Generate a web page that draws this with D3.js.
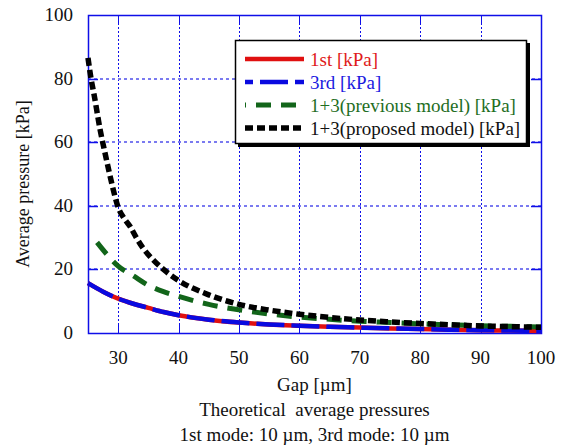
<!DOCTYPE html>
<html>
<head>
<meta charset="utf-8">
<script src="https://cdn.jsdelivr.net/npm/d3@7"></script>
<style>
	body { margin: 0; background: #fff; }
	svg { display: block; font-family: "Liberation Serif", "Times New Roman", "DejaVu Serif", serif; }
</style>
</head>
<body>
<svg id="chart" width="561" height="445"></svg>
<script>
// Values
var gapFirst = [25, 27.5, 30, 32.5, 35, 37.5, 40, 45, 50, 55, 60, 65, 70, 75, 80, 85, 90, 95, 100];
var pressFirst = [15.7, 13.0, 10.8, 9.2, 7.9, 6.6, 5.6, 4.2, 3.3, 2.7, 2.3, 1.95, 1.7, 1.45, 1.25, 1.05, 0.9, 0.75, 0.6];
var gapThird = [25, 27.5, 30, 32.5, 35, 37.5, 40, 45, 50, 55, 60, 65, 70, 75, 80, 85, 90, 95, 100];
var pressThird = [15.7, 13.0, 10.8, 9.2, 7.9, 6.6, 5.6, 4.2, 3.3, 2.7, 2.3, 1.95, 1.7, 1.45, 1.25, 1.05, 0.9, 0.75, 0.6];
var gapPrev = [26.5, 28, 30, 32.5, 35, 37.5, 40, 45, 50, 55, 60, 65, 70, 75, 80, 85, 90, 95, 100];
var pressPrev = [28.5, 25.0, 21.0, 18.0, 15.0, 13.0, 11.5, 9.0, 7.3, 6.0, 5.0, 4.3, 3.7, 3.3, 2.9, 2.6, 2.3, 2.1, 1.9];
var gapProp = [25, 25.5, 26, 27, 28, 29, 30, 31, 32, 33, 34, 36, 38, 40, 45, 50, 55, 60, 65, 70, 75, 80, 85, 90, 95, 100];
var pressProp = [86.5, 80, 75, 64, 55, 46.5, 39.5, 36, 33.4, 30, 27, 22.6, 19.2, 16.5, 12, 9.0, 7.2, 5.9, 4.9, 4.1, 3.5, 3.0, 2.6, 2.2, 2.0, 1.8];

var xTicks = [30, 40, 50, 60, 70, 80, 90, 100];
var yTicks = [0, 20, 40, 60, 80, 100];
var seriesNames = ["1st [kPa]", "3rd [kPa]", "1+3(previous model) [kPa]", "1+3(proposed model) [kPa]"];

var chart = [];
chart.left = 88;
chart.right = 541;
chart.top = 15;
chart.bottom = 333;

chart.draw = () => {
	let svg = d3.select("#chart");
	let frameColor = "#0f0fe8";

	let x = d3.scaleLinear().domain([25, 100]).range([chart.left, chart.right]),
		y = d3.scaleLinear().domain([0, 100]).range([chart.bottom, chart.top]);

	// Grid lines
	svg.selectAll(".vgrid")
		.data(xTicks.filter(d => d < 100))
		.enter()
		.append("line")
		.attr("x1", d => Math.round(x(d)) + 0.5)
		.attr("x2", d => Math.round(x(d)) + 0.5)
		.attr("y1", chart.top)
		.attr("y2", chart.bottom)
		.style("stroke", frameColor)
		.style("stroke-width", 1)
		.style("stroke-dasharray", "2,2");

	svg.selectAll(".hgrid")
		.data(yTicks.filter(d => d > 0 && d < 100))
		.enter()
		.append("line")
		.attr("x1", chart.left)
		.attr("x2", chart.right)
		.attr("y1", d => Math.round(y(d)))
		.attr("y2", d => Math.round(y(d)))
		.style("stroke", "#7a7af0")
		.style("stroke-width", 2)
		.style("stroke-dasharray", "3,3");

	// Inner ticks on all four sides
	let tickLen = 10;
	xTicks.filter(d => d < 100).forEach(d => {
		let px = Math.round(x(d)) + 0.5;
		svg.append("line").attr("x1", px).attr("x2", px)
			.attr("y1", chart.bottom).attr("y2", chart.bottom - tickLen)
			.style("stroke", frameColor).style("stroke-width", 1);
		svg.append("line").attr("x1", px).attr("x2", px)
			.attr("y1", chart.top).attr("y2", chart.top + tickLen)
			.style("stroke", frameColor).style("stroke-width", 1);
	});
	yTicks.filter(d => d > 0 && d < 100).forEach(d => {
		let py = Math.round(y(d)) + 0.5;
		svg.append("line").attr("x1", chart.left).attr("x2", chart.left + tickLen)
			.attr("y1", py).attr("y2", py)
			.style("stroke", frameColor).style("stroke-width", 1.5);
		svg.append("line").attr("x1", chart.right).attr("x2", chart.right - tickLen)
			.attr("y1", py).attr("y2", py)
			.style("stroke", frameColor).style("stroke-width", 1.5);
	});

	// Plot frame
	svg.append("rect")
		.attr("x", chart.left + 0.5)
		.attr("y", chart.top + 0.5)
		.attr("width", chart.right - chart.left)
		.attr("height", chart.bottom - chart.top)
		.style("fill", "none")
		.style("stroke", frameColor)
		.style("stroke-width", 1.5);

	// Curves
	let series = [
		{ gx: gapFirst, gy: pressFirst, color: "#e01010", width: 4.5, dash: null },
		{ gx: gapThird, gy: pressThird, color: "#0a0ae0", width: 4.5, dash: "28,7" },
		{ gx: gapPrev, gy: pressPrev, color: "#12651a", width: 5, dash: "15,10" },
		{ gx: gapProp, gy: pressProp, color: "#000000", width: 5.5, dash: "8,4" }
	];

	let line = d3.line()
		.x(d => x(d[0]))
		.y(d => y(d[1]))
		.curve(d3.curveMonotoneX);

	svg.append("defs").append("clipPath")
		.attr("id", "plotClip")
		.append("rect")
		.attr("x", chart.left - 4)
		.attr("y", chart.top)
		.attr("width", chart.right - chart.left + 4)
		.attr("height", chart.bottom - chart.top + 1);

	let g = svg.append("g").attr("clip-path", "url(#plotClip)");
	series.forEach(s => {
		let pts = s.gx.map((v, i) => [v, s.gy[i]]);
		g.append("path")
			.datum(pts)
			.attr("d", line)
			.style("fill", "none")
			.style("stroke", s.color)
			.style("stroke-width", s.width)
			.style("stroke-dasharray", s.dash);
	});

	// Tick labels
	svg.selectAll(".xlab")
		.data(xTicks)
		.enter()
		.append("text")
		.attr("x", d => x(d))
		.attr("y", chart.bottom + 31)
		.style("text-anchor", "middle")
		.style("font-size", "19px")
		.style("fill", "#111")
		.text(d => d);

	svg.selectAll(".ylab")
		.data(yTicks)
		.enter()
		.append("text")
		.attr("x", 73)
		.attr("y", d => y(d) + 6)
		.style("text-anchor", "end")
		.style("font-size", "19px")
		.style("fill", "#111")
		.text(d => d);

	// Axis titles
	let midX = (chart.left + chart.right) / 2;
	svg.append("text")
		.attr("x", midX).attr("y", 391)
		.style("text-anchor", "middle").style("font-size", "19px").style("fill", "#111")
		.text("Gap [µm]");
	svg.append("text")
		.attr("x", midX).attr("y", 416)
		.style("text-anchor", "middle").style("font-size", "19px").style("fill", "#111")
		.style("white-space", "pre")
		.text("Theoretical  average pressures");
	svg.append("text")
		.attr("x", midX).attr("y", 441)
		.style("text-anchor", "middle").style("font-size", "19px").style("fill", "#111")
		.text("1st mode: 10 µm, 3rd mode: 10 µm");
	svg.append("text")
		.attr("transform", "translate(29,184) rotate(-90)")
		.style("text-anchor", "middle").style("font-size", "18px").style("fill", "#111")
		.text("Average pressure [kPa]");

	// Legend box with shadow
	let lg = svg.append("g");
	lg.append("rect")
		.attr("x", 238).attr("y", 43)
		.attr("width", 292).attr("height", 104)
		.style("fill", "#000");
	lg.append("rect")
		.attr("x", 235.5).attr("y", 40.5)
		.attr("width", 291).attr("height", 103)
		.style("fill", "#fff")
		.style("stroke", "#000")
		.style("stroke-width", 1.5);

	let textColors = ["#e01a1a", "#1a1ae0", "#1f6e1f", "#111111"];
	let legendY = [59, 82, 105, 128];
	series.forEach((s, i) => {
		lg.append("line")
			.attr("x1", 245).attr("x2", 304)
			.attr("y1", legendY[i]).attr("y2", legendY[i])
			.style("stroke", s.color)
			.style("stroke-width", s.width)
			.style("stroke-dasharray", s.dash)
			.style("stroke-dashoffset", i == 1 ? 20 : (i == 2 ? 14 : 0));
		lg.append("text")
			.attr("x", 310).attr("y", legendY[i] + 7)
			.style("font-size", "19px")
			.style("fill", textColors[i])
			.text(seriesNames[i]);
	});
}

chart.draw();
</script>
</body>
</html>
